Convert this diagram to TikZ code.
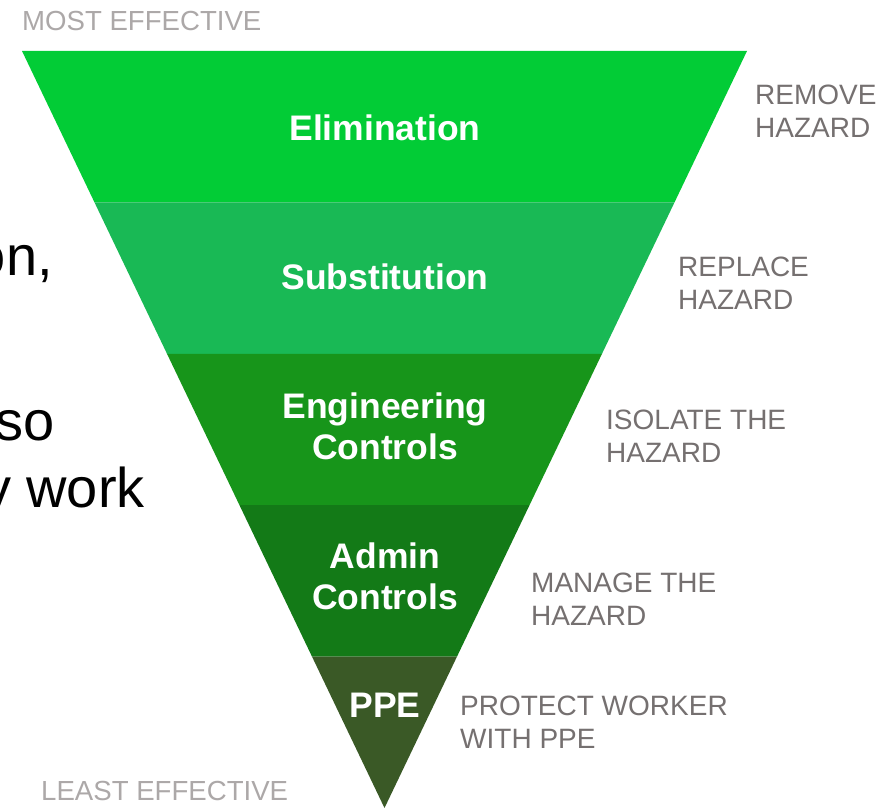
\documentclass[tikz,border=0pt]{standalone}
\usepackage{fontspec}
\setmainfont{Liberation Sans}
\usetikzlibrary{calc}

\definecolor{elimgreen}{RGB}{2,204,54}
\definecolor{substgreen}{RGB}{25,185,85}
\definecolor{enggreen}{RGB}{23,149,26}
\definecolor{admingreen}{RGB}{19,122,23}
\definecolor{ppegreen}{RGB}{58,89,38}
\definecolor{actgrey}{RGB}{117,112,112}
\definecolor{rankgrey}{RGB}{172,168,168}

\begin{document}
\begin{tikzpicture}[x=1pt,y=-1pt,
  level/.style={text=white,inner sep=0pt,align=center,anchor=base,font=\fontsize{35.5}{41}\selectfont\bfseries},
  action/.style={text=actgrey,inner sep=0pt,align=left,anchor=base west,font=\fontsize{28}{33}\selectfont},
  rank/.style={text=rankgrey,inner sep=0pt,anchor=base west,font=\fontsize{27.6}{32}\selectfont},
  slide/.style={text=black,inner sep=0pt,anchor=base east,font=\fontsize{56}{67}\selectfont}]
\useasboundingbox (0,0) rectangle (895,808);
\clip (0,0) rectangle (895,808);

% text of the slide behind the pyramid
\node[slide] (line1) at (53,275) {on,};
\node[slide] (line2) at (55,440) {so};
\node[slide] (line3) at (145,507) {y work};

% inverted pyramid, five equal bands
\coordinate (tl) at (22,51);
\coordinate (tr) at (747,51);
\coordinate (apex) at (384.5,808);
\foreach \col [count=\i from 0] in {elimgreen,substgreen,enggreen,admingreen,ppegreen}{
  \pgfmathsetmacro\ta{\i/5}
  \pgfmathsetmacro\tb{(\i+1)/5}
  \fill[\col] ($(tl)!\ta!(apex)$) -- ($(tr)!\ta!(apex)$) -- ($(tr)!\tb!(apex)$) -- ($(tl)!\tb!(apex)$) -- cycle;
}

% band names (base = last line)
\node[level] (elim) at (385,140) {Elimination};
\node[level] (subst) at (385,289) {Substitution};
\node[level] (eng) at (385,459) {Engineering\\Controls};
\node[level] (admin) at (385,609) {Admin\\Controls};
\node[level] (ppe) at (385,717) {PPE};

\node[action] (remove) at (755,137) {REMOVE\\HAZARD};
\node[action] (replace) at (678,309) {REPLACE\\HAZARD};
\node[action] (isolate) at (606,462) {ISOLATE THE\\HAZARD};
\node[action] (manage) at (531,625) {MANAGE THE\\HAZARD};
\node[action] (protect) at (460,748) {PROTECT WORKER\\WITH PPE};

\node[rank] (most) at (22,31) {MOST EFFECTIVE};
\node[rank] (least) at (41,800) {LEAST EFFECTIVE};
\end{tikzpicture}
\end{document}
